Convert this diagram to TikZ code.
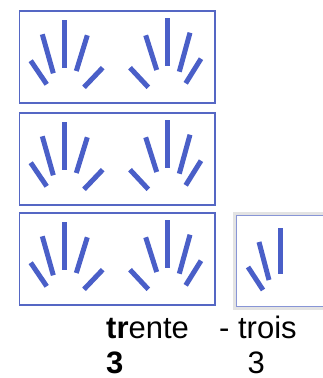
\documentclass[tikz,border=0pt]{standalone}
\usepackage{fontspec}
\setmainfont{Liberation Sans}
\definecolor{stick}{HTML}{4A5FC8}
\definecolor{frame}{HTML}{5567C4}
\begin{document}
\begin{tikzpicture}[x=1pt,y=-1pt,
  st/.style={draw=stick,line width=5pt,line cap=butt},
  fr/.style={draw=frame,line width=1.4pt},
  lbl/.style={inner sep=0pt,font=\fontsize{31}{36}\selectfont},
  hands/.pic={
    \coordinate (a1) at (30.7,60.7); \coordinate (b1) at (46.7,84.3);
    \coordinate (a2) at (42.3,34.3); \coordinate (b2) at (53.3,73.3);
    \coordinate (a3) at (64.3,20);   \coordinate (b3) at (64.3,67.7);
    \coordinate (a4) at (87.3,35.3); \coordinate (b4) at (76.3,71);
    \coordinate (a5) at (102.7,67.7);\coordinate (b5) at (84,87.3);
    \coordinate (c1) at (130,67.7);  \coordinate (d1) at (148.3,87.3);
    \coordinate (c2) at (145.7,35.3);\coordinate (d2) at (156.7,70);
    \coordinate (c3) at (167.3,18.3);\coordinate (d3) at (167.3,65.7);
    \coordinate (c4) at (190,32.7);  \coordinate (d4) at (179.3,71.7);
    \coordinate (c5) at (201,58.7);  \coordinate (d5) at (185.7,83.3);
    \foreach \i in {1,...,5}{\draw[st] (a\i) -- (b\i); \draw[st] (c\i) -- (d\i);}
    \draw[fr] (19.5,11) rectangle (215,103);
  }]
\useasboundingbox (0,0) rectangle (323,378);
\fill[white] (0,0) rectangle (323,378);
\pic at (0,0) {hands};
\pic at (0,102) {hands};
\pic at (0,202) {hands};
% small box with shadow
\fill[gray!22] (233,212) rectangle (323,310);
\fill[white] (236.5,215) rectangle (323,306);
\draw[frame!70,line width=0.9pt] (323,215) -- (236.5,215) -- (236.5,306) -- (323,306);
\coordinate (e1) at (248,267); \coordinate (f1) at (263,290);
\coordinate (e2) at (259,242); \coordinate (f2) at (269,280);
\coordinate (e3) at (280,228); \coordinate (f3) at (280,274);
\foreach \i in {1,2,3}{\draw[st] (e\i) -- (f\i);}
% labels
\node[lbl,anchor=base west] (w1) at (106,338) {\textbf{tr}ente};
\node[lbl,anchor=base west] (w2) at (219,338) {- trois};
\node[lbl,anchor=base west] (n1) at (106,373) {\textbf{3}};
\node[lbl,anchor=base west] (n2) at (247.5,373) {3};
\end{tikzpicture}
\end{document}
